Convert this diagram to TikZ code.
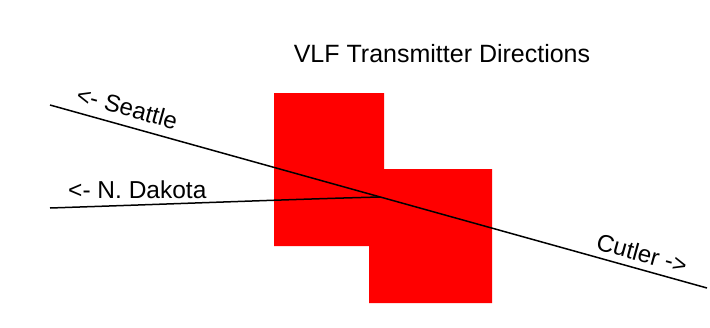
\documentclass[tikz,border=0pt]{standalone}
\usepackage{fontspec}
\setmainfont{Liberation Sans}
\begin{document}
\begin{tikzpicture}[x=1pt,y=-1pt,
  lbl/.style={inner sep=0pt,font=\fontsize{24}{28}\selectfont},
  pathline/.style={draw=black,line width=1.5pt}]
\useasboundingbox[fill=white] (0,0) rectangle (710,327);
% transmitter site block
\fill[red] (274,93) -- (384,93) -- (384,169) -- (492,169) -- (492,303)
  -- (369,303) -- (369,246) -- (274,246) -- cycle;
% direction lines
\coordinate (sw) at (50,105);
\coordinate (se) at (707,288);
\coordinate (nd) at (50,208);
\coordinate (hub) at (380,197);
\draw[pathline] (sw) -- (se);
\draw[pathline] (nd) .. controls (200,203) and (300,199) .. (hub);
% labels
\node[lbl,anchor=base,font=\fontsize{25}{29}\selectfont] (title) at (442,62) {VLF Transmitter Directions};
\node[lbl,anchor=base west,rotate=-15.5] (seattle) at (75,102) {<- Seattle};
\node[lbl,anchor=base west,font=\fontsize{24.5}{29}\selectfont] (ndakota) at (68,198) {<- N. Dakota};
\node[lbl,anchor=base west,rotate=-15.5] (cutler) at (595,249) {Cutler ->};
\end{tikzpicture}
\end{document}
